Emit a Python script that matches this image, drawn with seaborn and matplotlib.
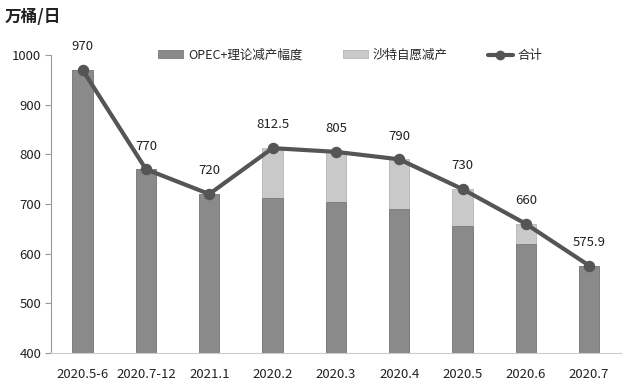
import numpy as np
import pandas as pd
import matplotlib
matplotlib.use("Agg")
import matplotlib.pyplot as plt
from matplotlib.patches import Patch
from matplotlib.lines import Line2D
import seaborn as sns

# ---- data ----
periods = ["2020.5-6", "2020.7-12", "2021.1", "2020.2", "2020.3",
           "2020.4", "2020.5", "2020.6", "2020.7"]
opec_cut = [970, 770, 720, 712.5, 705, 690, 655, 620, 575.9]
saudi_cut = [0, 0, 0, 100, 100, 100, 75, 40, 0]
total = [970, 770, 720, 812.5, 805, 790, 730, 660, 575.9]
total_labels = ["970", "770", "720", "812.5", "805", "790", "730", "660", "575.9"]

DARK = "#8a8a8a"
LIGHT = "#c9c9c9"
LINE = "#555555"

sns.set_theme(style="white")
plt.rcParams["font.family"] = ["Noto Sans CJK SC", "DejaVu Sans"]

df = pd.DataFrame({"period": periods, "opec": opec_cut,
                   "stack": np.array(opec_cut) + np.array(saudi_cut),
                   "total": total})

fig = plt.figure(figsize=(6.29, 3.86), dpi=100)
ax = fig.add_axes([0.081, 0.0855, 0.906, 0.772])

# stacked bars: light (opec + saudi) behind, dark (opec) in front
sns.barplot(data=df, x="period", y="stack", color=LIGHT, saturation=1,
            width=0.32, edgecolor="#b5b5b5", linewidth=0.6, ax=ax)
sns.barplot(data=df, x="period", y="opec", color=DARK, saturation=1,
            width=0.32, edgecolor="#7a7a7a", linewidth=0.6, ax=ax)
sns.pointplot(data=df, x="period", y="total", color=LINE, markers="o",
              markersize=6, linewidth=3, ax=ax)

for i, (v, lab) in enumerate(zip(total, total_labels)):
    ax.annotate(lab, (i, v), xytext=(0, 12), textcoords="offset points",
                ha="center", va="bottom", fontsize=9.5, color="#222222")

ax.set_ylim(400, 1000)
ax.set_xlim(-0.5, len(periods) - 0.5)
ax.set_yticks(range(400, 1001, 100))
ax.set_xlabel("")
ax.set_ylabel("")
ax.tick_params(axis="y", length=4, width=0.8, color="#999999",
               labelsize=9.5, pad=3, direction="out", left=True)
ax.tick_params(axis="x", length=0, labelsize=9.5, pad=11)
for lab in ax.get_xticklabels() + ax.get_yticklabels():
    lab.set_color("#222222")
for s in ["top", "right"]:
    ax.spines[s].set_visible(False)
ax.spines["left"].set_color("#999999")
ax.spines["bottom"].set_color("#cccccc")
ax.spines["left"].set_linewidth(0.8)
ax.spines["bottom"].set_linewidth(0.8)

fig.text(0.008, 0.955, "万桶/日", fontsize=12, fontweight="bold",
         ha="left", va="center", color="#222222")

handles = [
    Patch(facecolor=DARK, edgecolor="#7a7a7a", linewidth=0.6),
    Patch(facecolor=LIGHT, edgecolor="#b5b5b5", linewidth=0.6),
    Line2D([0], [0], color=LINE, lw=3, marker="o", markersize=6),
]
fig.legend(handles, ["OPEC+理论减产幅度", "沙特自愿减产", "合计"],
           loc="center", bbox_to_anchor=(0.557, 0.857), ncol=3, frameon=False,
           fontsize=9, handlelength=2.0, handleheight=0.6,
           columnspacing=3.2, handletextpad=0.4)

fig.savefig("out.png", dpi=100)
